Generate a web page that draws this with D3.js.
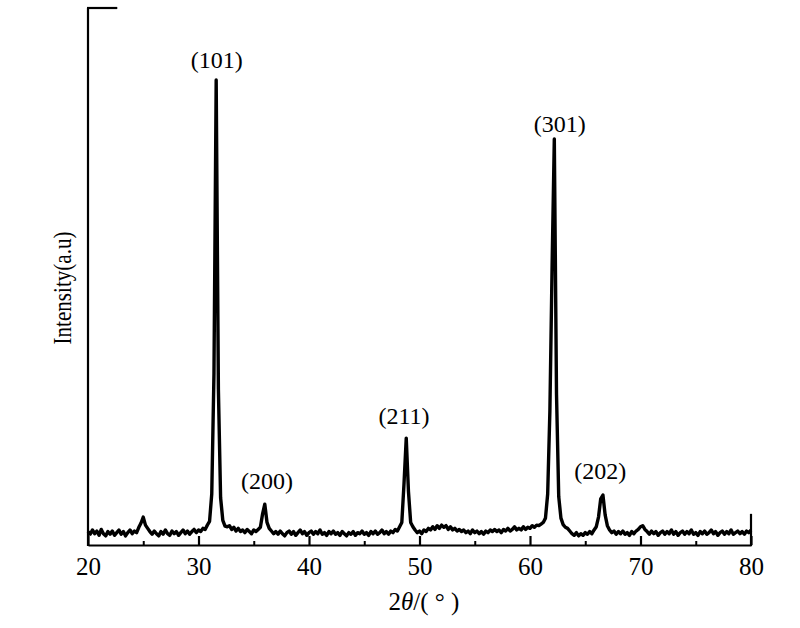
<!DOCTYPE html>
<html><head><meta charset="utf-8">
<script src="https://cdn.jsdelivr.net/npm/d3@7/dist/d3.min.js"></script>
<style>body{margin:0;background:#fff}svg{display:block}text{font-family:"Liberation Serif","Times New Roman",serif;fill:#000}</style>
</head><body>
<script>
// 2θ sampled from 20° to 80° at a 0.2° step
const thetaStart = 20, thetaStep = 0.2;
const intensity = [
25,20,28,21,26,18,29,21,17,25, 20,26,18,23,28,20,25,17,23,28,
21,26,23,33,41,52,37,31,25,20, 26,21,17,25,20,28,21,18,26,21,
25,18,23,28,21,26,20,25,29,23, 28,25,31,29,37,44,95,320,866,290,
88,46,35,34,36,29,33,26,31,25, 28,23,29,25,21,28,25,29,33,58,
76,42,31,26,21,25,20,26,21,17, 23,26,20,25,18,23,28,21,25,18,
23,26,20,25,21,28,20,23,18,25, 21,26,20,23,18,25,21,17,23,20,
25,18,23,21,26,20,23,18,25,21, 26,20,23,28,21,25,20,26,23,29,
26,34,42,115,199,100,42,34,28,23, 26,21,28,25,31,28,34,29,36,31,
37,33,36,29,34,28,31,26,29,25, 28,23,26,21,28,23,26,21,25,20,
26,23,28,25,29,25,28,23,29,26, 31,26,29,34,28,31,28,34,29,33,
31,36,33,37,36,39,42,50,95,250, 520,756,280,90,50,38,33,31,26,21,
18,23,17,21,18,23,20,25,21,28, 34,52,86,93,56,36,28,23,26,20,
25,21,26,20,23,18,25,21,26,29, 34,36,29,25,20,26,21,25,18,23,
26,20,25,21,28,20,25,18,23,26, 20,25,21,28,20,23,18,25,21,26,
20,23,28,21,25,18,23,26,20,25, 21,28,20,23,26,21,25,20,26,23,
28
];
const peakLabels = ["(101)","(200)","(211)","(301)","(202)"];
const peakPos = [31.65, 36.2, 48.6, 62.7, 66.35];
const peakLabelIntensity = [888, 104, 225, 770, 122];
const majorTicks = [20,30,40,50,60,70,80];
const minorTicks = [25,35,45,55,65,75];

const W = 800, H = 628;
const svg = d3.select("body").append("svg").attr("width", W).attr("height", H);
const x = d3.scaleLinear().domain([20, 80]).range([88, 751]);
const y = d3.scaleLinear().domain([0, 1000]).range([545, 8]);

const data = intensity.map((v, i) => ({t: thetaStart + i * thetaStep, v}));

// data line
svg.append("path").datum(data)
  .attr("fill", "none").attr("stroke", "#000").attr("stroke-width", 3.4)
  .attr("stroke-linejoin", "round")
  .attr("d", d3.line().x(d => x(d.t)).y(d => y(d.v)));

// bottom axis with inward major ticks
const gx = svg.append("g").attr("transform", `translate(0,${y(0)})`)
  .call(d3.axisBottom(x).tickValues(majorTicks).tickSize(-9).tickSizeOuter(0).tickPadding(12));
gx.select(".domain").attr("stroke-width", 2.2);
gx.selectAll(".tick line").attr("stroke-width", 2.2);
gx.selectAll(".tick text").attr("font-size", 25).attr("font-family", "Liberation Serif");
// minor ticks
const gm = svg.append("g").attr("transform", `translate(0,${y(0)})`)
  .call(d3.axisBottom(x).tickValues(minorTicks).tickSize(-4).tickFormat(""));
gm.select(".domain").remove();
gm.selectAll(".tick line").attr("stroke-width", 2);

// left axis (no ticks) with top stub
svg.append("line").attr("x1", x(20)).attr("x2", x(20)).attr("y1", y(0)+1).attr("y2", y(1000))
  .attr("stroke", "#000").attr("stroke-width", 2.2);
svg.append("line").attr("x1", x(20)-1).attr("x2", x(22.65)).attr("y1", y(1000)).attr("y2", y(1000))
  .attr("stroke", "#000").attr("stroke-width", 2.2);
// right stub
svg.append("line").attr("x1", x(80)).attr("x2", x(80)).attr("y1", y(0)+1).attr("y2", y(58))
  .attr("stroke", "#000").attr("stroke-width", 2.2);

// peak labels
svg.selectAll("text.peak").data(peakLabels).enter().append("text")
  .attr("class", "peak").attr("text-anchor", "middle").attr("font-size", 24)
  .attr("x", (d, i) => x(peakPos[i])).attr("y", (d, i) => y(peakLabelIntensity[i]))
  .text(d => d);

// axis titles
const xt = svg.append("text").attr("x", 424).attr("y", 610).attr("text-anchor", "middle").attr("font-size", 25);
xt.append("tspan").text("2");
xt.append("tspan").attr("font-style", "italic").text("θ");
xt.append("tspan").text("/( ° )");

svg.append("text").attr("transform", "translate(71,288) rotate(-90)")
  .attr("text-anchor", "middle").attr("font-size", 25)
  .attr("textLength", 113).attr("lengthAdjust", "spacingAndGlyphs")
  .text("Intensity(a.u)");
</script>
</body></html>
